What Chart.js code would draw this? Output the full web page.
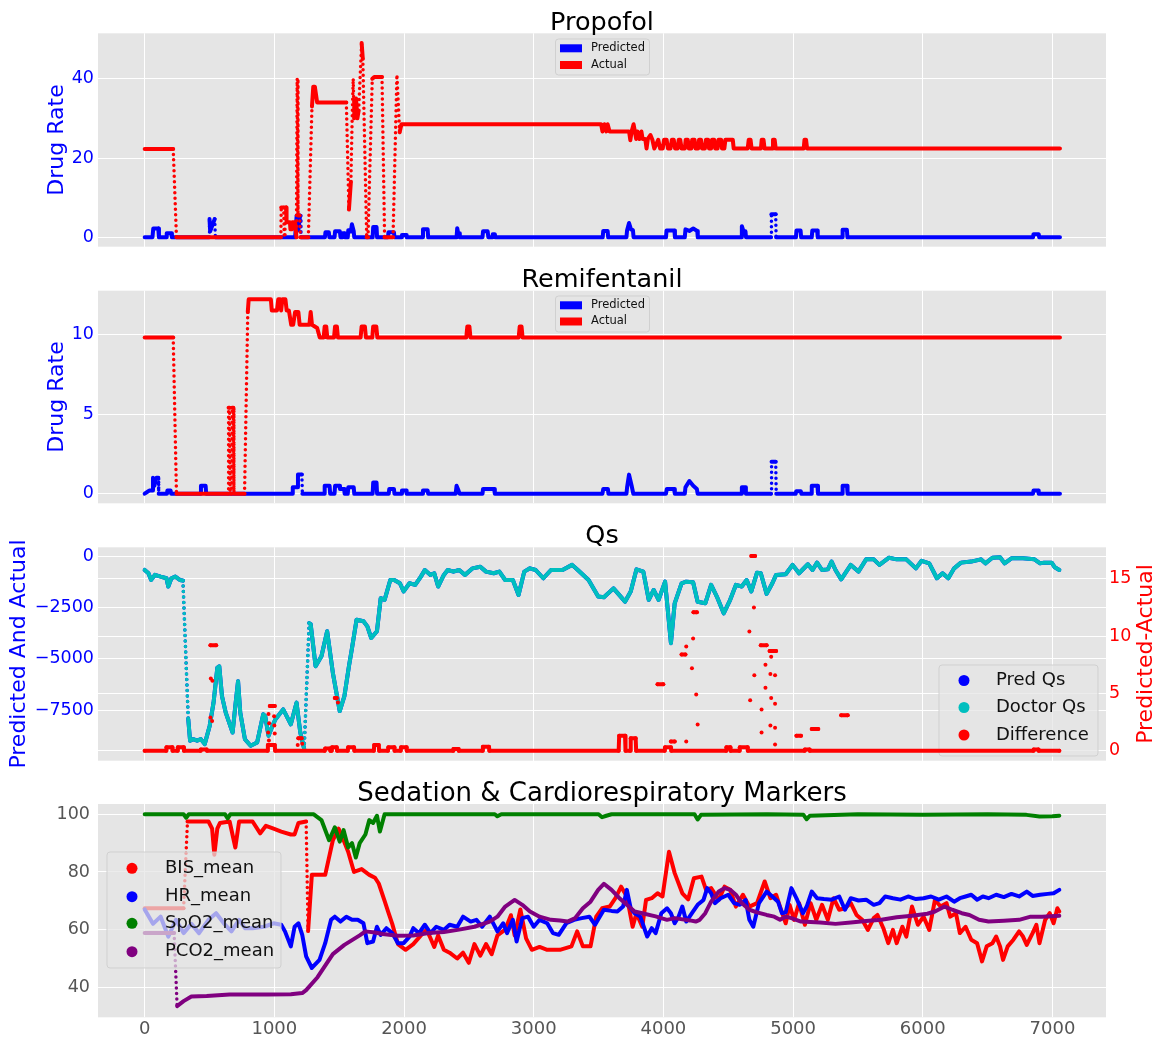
<!DOCTYPE html>
<html>
<head>
<meta charset="utf-8">
<script src="https://cdn.jsdelivr.net/npm/chart.js@4.4.1/dist/chart.umd.min.js"></script>
<style>
body { margin: 0; background: #fff; }
#wrap { position: relative; width: 1160px; height: 1040px; }
#wrap canvas { position: absolute; left: 0; }
</style>
</head>
<body>
<div id="wrap">
  <canvas id="c1" width="1160" height="260" style="top:0px"></canvas>
  <canvas id="c2" width="1160" height="260" style="top:260px"></canvas>
  <canvas id="c3" width="1160" height="260" style="top:520px"></canvas>
  <canvas id="c4" width="1160" height="260" style="top:780px"></canvas>
</div>
<script>
// ---- data (x = sample index, y = value) ----
var xTicks = [0, 1000, 2000, 3000, 4000, 5000, 6000, 7000];
var propTicks = [0, 20, 40];
var remiTicks = [0, 5, 10];
var qsTicks = [-7500, -5000, -2500, 0];
var diffTicks = [0, 5, 10, 15];
var vitalTicks = [40, 60, 80, 100];

var propActual = [[0,22.3],[220,22.3],[245,0],[1050,0],[1053,7.5],[1072,7.5],[1076,0],[1082,7.5],[1090,7.5],[1094,3.8],[1120,3.8],[1124,2],[1135,2],[1138,3.8],[1160,3.8],[1170,0],[1176,40],[1182,5.5],[1195,5.5],[1200,0],[1262,0],[1290,33],[1300,38],[1312,38],[1330,34],[1555,34],[1575,7],[1590,14],[1600,30],[1608,40],[1615,30],[1630,35],[1640,30],[1650,32],[1673,49],[1682,45],[1712,0],[1722,0],[1755,40],[1770,40.4],[1830,40.4],[1850,0],[1915,0],[1945,41],[1966,26.5],[1980,28.5],[3520,28.5],[3530,26.7],[3545,28.5],[3560,26.7],[3570,28.5],[3585,26.7],[3735,26.7],[3745,24.5],[3755,26.7],[3770,28.5],[3780,26.7],[3790,24.8],[3800,26.7],[3815,24.8],[3830,26.7],[3840,24.8],[3860,24.8],[3870,22.4],[3880,24.8],[3900,25.8],[3915,24.6],[3930,22.4],[3960,24.6],[3975,22.4],[3995,22.4],[4005,24.6],[4025,24.6],[4035,22.4],[4055,22.4],[4065,24.6],[4080,24.6],[4090,22.4],[4110,22.4],[4118,24.6],[4130,24.6],[4140,22.4],[4165,22.4],[4172,24.6],[4188,24.6],[4196,22.4],[4215,22.4],[4222,24.6],[4240,24.6],[4248,22.4],[4268,22.4],[4275,24.6],[4290,24.6],[4298,22.4],[4320,22.4],[4328,24.6],[4345,24.6],[4352,22.4],[4368,22.4],[4375,24.6],[4392,24.6],[4400,22.4],[4418,22.4],[4425,24.6],[4445,24.6],[4452,22.4],[4470,22.4],[4478,24.6],[4535,24.6],[4542,22.4],[4650,22.4],[4658,24.6],[4672,24.6],[4680,22.4],[4752,22.4],[4758,24.6],[4772,24.6],[4780,22.4],[4838,22.4],[4845,24.6],[4858,24.6],[4866,22.4],[5082,22.4],[5088,24.6],[5100,24.6],[5108,22.4],[7058,22.4]];
var propPred = [[0,0],[60,0],[66,2.2],[105,2.2],[110,0],[165,0],[170,1],[205,1],[210,0],[498,0],[500,4.6],[505,1.5],[540,4.6],[545,0],[1160,0],[1172,5.5],[1185,1.8],[1198,5.5],[1205,0],[1390,0],[1394,1.3],[1420,1.3],[1424,0],[1464,0],[1468,1.5],[1505,1.5],[1510,0],[1522,0],[1526,1],[1540,1],[1544,0],[1566,0],[1570,1.8],[1590,1.5],[1598,3.3],[1612,1.5],[1616,0],[1758,0],[1762,2.6],[1788,2.6],[1792,0],[1876,0],[1880,1.3],[1922,1.3],[1926,0],[1980,0],[1984,0.6],[2016,0.6],[2020,0],[2142,0],[2146,2],[2182,2],[2186,0],[2405,0],[2410,2.3],[2418,1],[2425,1],[2430,0],[2605,0],[2609,1.5],[2645,1.5],[2650,0],[2680,0],[2684,0.8],[2700,0.8],[2704,0],[3532,0],[3536,1.6],[3570,1.6],[3574,0],[3715,0],[3720,1.8],[3735,3.6],[3750,2],[3765,1.8],[3770,0],[4020,0],[4024,1.7],[4085,1.7],[4089,0],[4165,0],[4170,2],[4200,1.6],[4230,2.2],[4261,1.6],[4265,0],[4600,0],[4605,2.8],[4618,1.5],[4633,1.5],[4637,0],[4830,0],[4833,5.8],[4866,5.8],[4869,0],[5022,0],[5026,1.7],[5058,1.7],[5062,0],[5144,0],[5148,1.7],[5186,1.7],[5190,0],[5378,0],[5382,1.9],[5415,1.9],[5419,0],[6850,0],[6854,0.8],[6894,0.8],[6898,0],[7058,0]];

var remiActual = [[0,9.8],[220,9.8],[245,0],[643,0],[647,5.4],[655,5.4],[659,0],[670,0],[674,5.4],[684,5.4],[688,0],[770,0],[795,11.4],[802,12.2],[973,12.2],[980,11.5],[1020,11.5],[1030,12.2],[1045,12.2],[1052,11.5],[1062,12.2],[1085,12.2],[1095,11.5],[1112,11.5],[1130,10.6],[1145,10.6],[1160,11.4],[1185,11.4],[1195,10.6],[1270,10.6],[1280,11.4],[1290,10.6],[1330,10.4],[1350,9.8],[1380,9.8],[1388,10.5],[1400,10.5],[1408,9.8],[1460,9.8],[1468,10.5],[1482,10.5],[1490,9.8],[1665,9.8],[1673,10.5],[1698,10.5],[1706,9.8],[1755,9.8],[1762,10.5],[1786,10.5],[1794,9.8],[2480,9.8],[2488,10.5],[2504,10.5],[2512,9.8],[2884,9.8],[2892,10.5],[2906,10.5],[2914,9.8],[7058,9.8]];
var remiPred = [[0,0],[35,0.2],[60,0.2],[64,1],[75,0.5],[90,1],[105,1],[108,0],[172,0],[175,0.2],[200,0.2],[204,0],[430,0],[434,0.5],[470,0.5],[474,0],[1138,0],[1142,0.4],[1178,0.4],[1182,1.2],[1212,1.2],[1216,0],[1384,0],[1388,0.5],[1426,0.5],[1430,0],[1464,0],[1468,0.5],[1502,0.5],[1506,0.3],[1538,0.3],[1542,0],[1566,0],[1570,0.4],[1612,0.4],[1616,0],[1758,0],[1762,0.7],[1788,0.7],[1792,0],[1882,0],[1886,0.3],[1922,0.3],[1926,0],[1980,0],[1984,0.2],[2016,0.2],[2020,0],[2142,0],[2146,0.2],[2182,0.2],[2186,0],[2398,0],[2405,0.5],[2420,0.2],[2428,0],[2605,0],[2609,0.3],[2695,0.3],[2700,0],[3530,0],[3536,0.3],[3572,0.3],[3576,0],[3715,0],[3720,0.4],[3735,1.2],[3755,0.5],[3768,0],[4020,0],[4026,0.3],[4082,0.3],[4088,0],[4165,0],[4170,0.4],[4200,0.8],[4230,0.5],[4258,0.3],[4264,0],[4600,0],[4605,0.4],[4630,0.4],[4636,0],[4830,0],[4834,2],[4866,2],[4870,0],[5020,0],[5024,0.15],[5060,0.15],[5064,0],[5140,0],[5144,0.5],[5188,0.5],[5192,0],[5378,0],[5382,0.5],[5416,0.5],[5420,0],[6850,0],[6854,0.2],[6890,0.2],[6894,0],[7058,0]];

var doctorQs = [[0,-650],[29,-810],[50,-1136],[79,-890],[123,-975],[168,-1055],[182,-1460],[206,-1055],[236,-975],[271,-1136],[295,-1170],[336,-7950],[350,-9000],[374,-8925],[404,-9000],[433,-8925],[463,-9170],[501,-8280],[531,-7140],[560,-5440],[575,-5360],[596,-6820],[625,-7630],[678,-8600],[699,-7300],[720,-6090],[737,-7630],[773,-8930],[817,-9250],[867,-9090],[914,-7710],[929,-7790],[955,-8760],[985,-8280],[1009,-7950],[1068,-7470],[1127,-8200],[1171,-7140],[1200,-8600],[1230,-9410],[1268,-3250],[1280,-3300],[1318,-5360],[1363,-4870],[1407,-3650],[1451,-5680],[1504,-7550],[1540,-6820],[1575,-5360],[1599,-4460],[1634,-3080],[1687,-3160],[1717,-3410],[1747,-3980],[1791,-3650],[1820,-2030],[1850,-2110],[1894,-1140],[1924,-1140],[1968,-1300],[1997,-1700],[2042,-1300],[2086,-1380],[2130,-975],[2160,-650],[2204,-890],[2233,-810],[2263,-1460],[2307,-890],[2337,-650],[2381,-730],[2425,-650],[2470,-890],[2529,-570],[2588,-490],[2632,-730],[2691,-810],[2735,-730],[2780,-1140],[2839,-1140],[2883,-1870],[2927,-730],[2971,-570],[3015,-650],[3074,-1055],[3133,-650],[3222,-650],[3296,-400],[3340,-650],[3423,-1140],[3497,-1950],[3541,-1980],[3615,-1550],[3659,-1870],[3704,-2200],[3748,-1700],[3792,-620],[3845,-730],[3887,-2110],[3925,-1630],[3963,-2110],[4013,-1220],[4058,-4230],[4087,-2280],[4140,-1300],[4176,-1220],[4229,-1250],[4264,-2200],[4323,-2280],[4368,-1380],[4412,-1950],[4465,-2770],[4515,-2110],[4559,-1380],[4604,-1460],[4642,-1140],[4678,-1700],[4722,-780],[4751,-810],[4796,-1820],[4840,-1300],[4869,-890],[4943,-860],[4996,-400],[5046,-810],[5114,-370],[5150,-650],[5185,-290],[5223,-650],[5268,-620],[5297,-240],[5327,-650],[5371,-1110],[5445,-400],[5504,-730],[5563,-130],[5622,-130],[5666,-400],[5740,-50],[5799,-130],[5873,-130],[5947,-570],[5991,-200],[6050,-325],[6109,-1055],[6153,-810],[6197,-1055],[6242,-570],[6295,-290],[6374,-240],[6448,-130],[6483,-325],[6537,-50],[6596,-30],[6631,-325],[6684,-80],[6773,-80],[6861,-130],[6905,-325],[6935,-290],[6994,-290],[7018,-520],[7053,-650]];
var predQs = doctorQs; // sits exactly under the doctor curve in the figure

// [x, null] breaks the line so the loose dots stay apart
var qsDiff = [[0,0],[165,0],[168,0.3],[212,0.3],[215,0],[253,0],[256,0.3],[300,0.3],[303,0],[430,0],[433,0.1],[478,0.1],[481,0],[947,0],[950,0.5],[1003,0.5],[1006,0],[1388,0],[1392,0.2],[1428,0.2],[1432,0],[1442,0],[1445,0.3],[1481,0.3],[1484,0],[1566,0],[1569,0.3],[1614,0.3],[1617,0],[1767,0],[1770,0.5],[1805,0.5],[1808,0],[1876,0],[1879,0.3],[1924,0.3],[1927,0],[1974,0],[1977,0.3],[2018,0.3],[2021,0],[2378,0],[2381,0.15],[2419,0.15],[2422,0],[2605,0],[2608,0.35],[2655,0.35],[2658,0],[3655,0],[3659,1.3],[3704,1.3],[3708,0],[3744,0],[3748,1.1],[3786,1.1],[3790,0],[4010,0],[4013,0.3],[4058,0.3],[4061,0],[4483,0],[4486,0.3],[4515,0.3],[4518,0],[4586,0],[4589,0.3],[4648,0.3],[4651,0],[5088,0],[5091,0.1],[5126,0.1],[5129,0],[6852,0],[6855,0.1],[6891,0.1],[6894,0],[7053,0],
  [7053,null],[507,9.2],[551,9.2],[551,null],[510,6.3],[510,null],[522,6.1],[522,null],[507,2.9],[507,null],[520,2.6],[520,null],
  [965,3.9],[1003,3.9],[1003,null],[955,3.2],[955,null],[960,2.4],[960,null],[998,3.0],[998,null],[1000,2.2],[1000,null],[952,1.6],[952,null],[1003,1.5],[1003,null],[958,0.9],[958,null],
  [1185,1.1],[1210,1.1],[1210,null],[1180,0.5],[1180,null],[1215,0.6],[1215,null],[1466,4.6],[1481,4.6],[1481,null],[1490,4.2],[1490,null],
  [3955,5.8],[3999,5.8],[3999,null],[4058,0.8],[4087,0.8],[4087,null],[4140,8.4],[4170,8.4],[4170,null],[4176,9.1],[4176,null],[4220,7.2],[4220,null],[4229,9.8],[4229,null],[4232,12.1],[4258,12.1],[4258,null],[4253,4.9],[4253,null],[4264,2.3],[4264,null],[4176,0.8],[4176,null],
  [4663,10.4],[4663,null],[4669,4.4],[4669,null],[4678,17],[4707,17],[4707,null],[4698,12.5],[4698,null],[4701,6.6],[4701,null],
  [4751,9.2],[4796,9.2],[4796,null],[4787,7.5],[4787,null],[4787,5.5],[4787,null],[4757,3.6],[4757,null],[4757,1.6],[4757,null],
  [4819,8.7],[4869,8.7],[4869,null],[4831,8.2],[4831,null],[4825,6.7],[4825,null],[4861,6.6],[4861,null],[4831,4.6],[4831,null],[4861,4.1],[4861,null],[4825,2.2],[4825,null],[4861,2.0],[4861,null],[4861,0.55],[4861,null],
  [5026,1.3],[5061,1.3],[5061,null],[5144,1.9],[5194,1.9],[5194,null],[5371,3.1],[5421,3.1]];

var bisMean = [[0,67.4],[300,67.4],[330,97.5],[492,97.5],[520,95],[537,86],[560,95],[581,97],[655,97.5],[699,88.5],[728,97.5],[832,97.5],[891,93.4],[935,96],[994,95],[1053,94],[1127,93],[1156,93],[1186,97],[1245,97.5],[1260,59.5],[1289,79],[1333,79],[1392,79],[1451,91],[1496,95],[1525,92],[1569,87],[1614,80],[1673,81],[1732,79],[1776,78],[1805,76],[1850,70],[1879,66],[1909,62],[1953,55],[2012,53],[2071,55],[2130,58],[2174,60],[2204,57],[2233,54],[2263,58],[2307,53],[2351,52],[2410,50],[2455,52],[2499,48.5],[2543,55],[2588,51],[2632,55],[2676,51.5],[2720,58],[2780,60],[2824,65],[2853,58],[2897,67],[2941,57],[2986,53],[3045,54],[3104,53],[3163,53],[3202,53],[3291,54.2],[3335,59.4],[3379,54.2],[3438,54.2],[3482,64.5],[3527,67.4],[3586,68],[3630,70.9],[3674,74.9],[3718,71.5],[3763,61],[3792,65.7],[3837,61],[3866,70.3],[3910,70.9],[3955,72.6],[3993,71.5],[4043,87],[4087,79.6],[4146,72.6],[4191,70.5],[4235,77.8],[4294,78.4],[4329,73.8],[4368,74.4],[4427,70.3],[4471,74.9],[4515,73.8],[4559,68],[4613,72.1],[4663,68],[4722,69.2],[4781,76.7],[4825,70.9],[4869,72.1],[4899,68],[4943,62.2],[4973,68.6],[5008,63.4],[5046,69.2],[5091,61.7],[5135,69.2],[5179,63.4],[5223,68.6],[5268,63.4],[5312,70.9],[5356,66.9],[5400,67.4],[5445,69.2],[5489,65.1],[5533,63.4],[5577,59.9],[5622,64],[5651,65.1],[5696,60.5],[5734,55.3],[5770,59.9],[5799,55.3],[5843,61],[5873,57.6],[5917,68],[5962,61.7],[6006,64.5],[6050,59.9],[6094,70.3],[6138,68],[6183,69.2],[6212,64.5],[6256,65.7],[6286,58.8],[6330,61],[6374,56.5],[6419,55.3],[6457,49],[6493,54.2],[6537,55.3],[6566,57.6],[6596,54.2],[6619,49.5],[6655,54.2],[6699,56.5],[6743,59.4],[6773,57.6],[6802,54.7],[6847,58.8],[6876,61.7],[6900,55.3],[6944,63.4],[6979,65.7],[7009,62.2],[7038,67.4],[7053,66.3]];
var hrMean = [[0,67],[64,62],[123,64.5],[182,57.6],[241,63.4],[300,58.8],[360,62],[419,58.8],[492,63.4],[551,65.7],[610,62.2],[669,59.4],[728,63.4],[773,60.5],[832,60.5],[920,61],[994,62.2],[1053,61.7],[1082,59.4],[1127,54.2],[1156,61],[1186,62.2],[1215,58.2],[1245,50.7],[1289,46.7],[1348,49.5],[1392,55.3],[1437,63.4],[1466,64.5],[1510,62.8],[1555,64.5],[1599,63.4],[1643,63.4],[1687,62.2],[1717,55.3],[1761,55.9],[1791,61],[1820,58.2],[1864,60.5],[1909,58.8],[1953,55.3],[1997,55.3],[2042,57.6],[2071,60.5],[2115,58.8],[2160,61.7],[2204,58.8],[2248,61],[2307,59.9],[2351,61.7],[2410,61],[2455,64.5],[2514,62.8],[2558,63.4],[2602,61],[2661,64.5],[2720,59.4],[2765,62.2],[2794,58.8],[2839,63.4],[2868,55.9],[2912,64],[2956,64.5],[3000,61],[3045,63.4],[3104,62.2],[3148,58.8],[3193,58.2],[3251,62.2],[3311,63.4],[3370,64],[3429,64.5],[3473,61.7],[3541,66.9],[3600,66.5],[3645,66.3],[3689,68],[3718,73.8],[3748,67.4],[3778,65.7],[3822,64.5],[3875,57.6],[3910,60.5],[3940,58.8],[3984,65.7],[4028,67.4],[4058,65.7],[4087,62.2],[4117,64.5],[4146,68],[4176,62.8],[4220,65.7],[4264,68.6],[4309,70.3],[4338,74.4],[4368,72.6],[4397,69.2],[4441,70.9],[4500,72.1],[4545,69.2],[4589,68.6],[4634,70.3],[4663,63.4],[4693,61],[4737,69.2],[4796,73.2],[4840,71.5],[4884,69.7],[4914,65.7],[4943,66],[4987,74.4],[5032,70.3],[5076,65.7],[5105,68],[5144,73.2],[5185,70.9],[5238,70.6],[5297,70.4],[5356,71.5],[5400,66.9],[5445,70.9],[5504,70.1],[5563,70.4],[5622,68.6],[5666,69.2],[5710,71.5],[5770,70.9],[5828,70.4],[5887,71.5],[5947,70.6],[6006,70.9],[6064,71.5],[6124,70.4],[6183,71.5],[6242,69.7],[6286,70.9],[6330,71.5],[6374,72.1],[6419,70.4],[6463,71.5],[6507,70.9],[6566,72.1],[6625,71.3],[6684,72.4],[6743,71.5],[6802,73.2],[6847,71.7],[6905,72.1],[6964,72.4],[7009,72.6],[7053,73.8]];
var spo2Mean = [[0,100],[300,100],[320,98.8],[340,100],[620,100],[640,98.6],[660,100],[1245,100],[1304,100],[1363,98],[1422,91],[1466,95.5],[1504,90.5],[1534,94.5],[1569,88.5],[1599,90],[1628,85],[1658,90],[1702,93],[1732,98],[1761,97],[1791,99.5],[1814,94],[1850,100],[2700,100],[2720,99.3],[2750,100],[3500,100],[3527,99],[3560,99.5],[3600,100],[4240,100],[4264,98.2],[4290,99.8],[4800,100],[5080,99.8],[5105,98.3],[5130,99.5],[5500,100],[6000,99.8],[6500,100],[6800,99.8],[6900,99.2],[7000,99.3],[7053,99.5]];
var pco2Mean = [[0,58.8],[227,58.8],[250,33.5],[300,35.2],[360,36.8],[478,37],[655,37.5],[950,37.5],[1127,37.6],[1215,38],[1245,39],[1333,43.5],[1451,51.5],[1540,54.7],[1658,58],[1702,59.4],[1776,59],[1835,58.5],[1953,57.9],[2071,58],[2189,58.8],[2307,59.2],[2425,60],[2543,61],[2661,62.8],[2720,64.5],[2780,68],[2853,70.3],[2912,68.6],[2971,66.3],[3045,64.5],[3133,63.4],[3202,63.2],[3261,62.8],[3320,64],[3379,67.4],[3438,69.7],[3497,73.8],[3541,75.9],[3600,73.8],[3659,71],[3718,68.6],[3778,66.3],[3837,65.7],[3940,64.6],[4028,63.4],[4087,64],[4205,63.2],[4249,62.8],[4280,63.4],[4323,65.7],[4368,69.7],[4427,73.2],[4471,74.4],[4515,73.8],[4559,72.1],[4604,69.2],[4663,66.9],[4722,66],[4796,65.1],[4855,64.5],[4899,63.4],[4943,64.5],[4987,64],[5061,62.8],[5209,62.5],[5327,62],[5445,62.5],[5563,63],[5681,63.4],[5799,64.3],[5917,64.8],[6035,65.5],[6094,66.3],[6168,68],[6227,66.9],[6301,65.7],[6360,65.1],[6434,63.4],[6507,62.8],[6625,63.1],[6743,63.4],[6832,64.5],[6920,64.5],[7053,64.8]];

// ---- styling ----
var F = 'DejaVu Sans';
var BG = '#e5e5e5';
var GRID = '#ffffff';
var X_MIN = -360, X_MAX = 7413;
Chart.defaults.font.family = F;

function minusFmt(v) { return v < 0 ? '\u2212' + Math.abs(v) : String(v); }

// steep jumps were drawn as separate dots in the original
function dotted(c) {
  var dy = Math.abs(c.p1.y - c.p0.y), dx = Math.abs(c.p1.x - c.p0.x);
  return dy > 15 && dy > 20 * dx;
}

function series(label, pts, color, order, extra) {
  var ds = {
    label: label,
    data: pts.map(function (p) { return { x: p[0], y: p[1] }; }),
    borderColor: color,
    backgroundColor: color,
    borderWidth: 4,
    pointRadius: 0,
    borderCapStyle: 'round',
    borderJoinStyle: 'round',
    order: order,
    segment: {
      borderDash: function (c) { return dotted(c) ? [0, 5.5] : undefined; },
      borderWidth: function (c) { return dotted(c) ? 3.5 : undefined; }
    }
  };
  return Object.assign(ds, extra || {});
}

function xAxis(h, labels) {
  return {
    type: 'linear', min: X_MIN, max: X_MAX,
    afterBuildTicks: function (s) { s.ticks = xTicks.map(function (v) { return { value: v }; }); },
    afterFit: function (s) { s.height = h; s.paddingLeft = 0; s.paddingRight = 0; },
    grid: { color: GRID, drawTicks: false },
    border: { display: false },
    ticks: { display: labels, color: '#555555', font: { size: 18 }, padding: 1, maxRotation: 0,
      callback: function (v) { return String(v); } }
  };
}

function yAxis(o) {
  var ax = {
    type: 'linear', position: o.pos || 'left', min: o.min, max: o.max,
    afterBuildTicks: function (s) { s.ticks = o.ticks.map(function (v) { return { value: v }; }); },
    afterFit: function (s) { s.width = o.width; s.paddingTop = 0; s.paddingBottom = 0; },
    grid: { color: GRID, drawTicks: false },
    border: { display: false },
    ticks: { color: o.color, font: { size: 17.5 }, padding: o.pad, callback: minusFmt }
  };
  if (o.title) {
    ax.title = { display: true, text: o.title, color: o.color, font: { size: 22 },
      padding: { top: o.titlePad, bottom: 0 } };
  }
  return ax;
}

function drawLegend(chart, L) {
  var c = chart.ctx;
  c.save();
  c.fillStyle = 'rgba(229,229,229,0.72)';
  c.strokeStyle = 'rgba(205,205,205,0.9)';
  c.lineWidth = 1;
  c.beginPath();
  if (c.roundRect) c.roundRect(L.x, L.y, L.w, L.h, 3); else c.rect(L.x, L.y, L.w, L.h);
  c.fill();
  c.stroke();
  c.font = L.size + 'px ' + F;
  c.textBaseline = 'middle';
  c.textAlign = 'left';
  L.items.forEach(function (di, i) {
    var ds = chart.data.datasets[di], y = L.rows[i];
    c.fillStyle = ds.borderColor;
    if (L.patch) {
      c.fillRect(L.mx, y - 4, 22, 8);
    } else {
      c.beginPath(); c.arc(L.mx, y, 5.5, 0, Math.PI * 2); c.fill();
    }
    c.fillStyle = '#111111';
    c.fillText(ds.label, L.tx, y);
  });
  c.restore();
}

var panelDeco = {
  id: 'panelDeco',
  beforeDraw: function (chart) {
    var a = chart.chartArea, c = chart.ctx;
    c.save();
    c.fillStyle = BG;
    c.fillRect(a.left, a.top, a.right - a.left, a.bottom - a.top);
    c.restore();
  },
  beforeDatasetDraw: function (chart, args, o) {
    if (o.legend && o.legend.under === args.index) drawLegend(chart, o.legend);
  },
  afterDatasetsDraw: function (chart, args, o) {
    if (o.legend && o.legend.under === undefined) drawLegend(chart, o.legend);
  },
  afterDraw: function (chart, args, o) {
    var a = chart.chartArea, c = chart.ctx;
    c.save();
    c.fillStyle = '#000000';
    c.font = o.titleSize + 'px ' + F;
    c.textAlign = 'center';
    c.textBaseline = 'alphabetic';
    c.fillText(o.title, (a.left + a.right) / 2, o.titleY);
    if (o.rightTitle) {
      c.translate(o.rightX, (a.top + a.bottom) / 2);
      c.rotate(-Math.PI / 2);
      c.fillStyle = o.rightColor;
      c.font = '22px ' + F;
      c.textBaseline = 'middle';
      c.fillText(o.rightTitle, 0, 0);
    }
    c.restore();
  }
};

function panel(id, cfg) {
  return new Chart(document.getElementById(id), {
    type: 'line',
    data: { datasets: cfg.datasets },
    options: {
      responsive: false,
      animation: false,
      events: [],
      layout: { padding: { top: cfg.top, right: cfg.right, bottom: 0, left: 0 } },
      scales: cfg.scales,
      plugins: { legend: { display: false }, tooltip: { enabled: false }, panelDeco: cfg.deco }
    },
    plugins: [panelDeco]
  });
}

// ---- Propofol ----
panel('c1', {
  top: 33.3, right: 54,
  datasets: [
    series('Predicted', propPred, '#0000ff', 1),
    series('Actual', propActual, '#ff0000', 0)
  ],
  scales: {
    x: xAxis(13.3, false),
    y: yAxis({ min: -2.37, max: 51.45, ticks: propTicks, color: '#0000ff', width: 98, pad: 4,
      title: 'Drug Rate', titlePad: 44.3 })
  },
  deco: { title: 'Propofol', titleY: 30, titleSize: 25.5,
    legend: { x: 555.5, y: 39, w: 94, h: 36, patch: true, mx: 560, tx: 591, size: 11.5, rows: [48.3, 65], items: [0, 1] } }
});

// ---- Remifentanil ----
panel('c2', {
  top: 30.7, right: 54,
  datasets: [
    series('Predicted', remiPred, '#0000ff', 1),
    series('Actual', remiActual, '#ff0000', 0)
  ],
  scales: {
    x: xAxis(16.7, false),
    y: yAxis({ min: -0.6, max: 12.74, ticks: remiTicks, color: '#0000ff', width: 98, pad: 4,
      title: 'Drug Rate', titlePad: 44.3 })
  },
  deco: { title: 'Remifentanil', titleY: 26.7, titleSize: 25.5,
    legend: { x: 555.5, y: 36, w: 94, h: 36, patch: true, mx: 560, tx: 591, size: 11.5, rows: [45.3, 61.5], items: [0, 1] } }
});

// ---- Qs ----
panel('c3', {
  top: 27.3, right: 0,
  datasets: [
    series('Pred Qs', predQs, '#0000ff', 2, { yAxisID: 'y' }),
    series('Doctor Qs', doctorQs, '#00bfbf', 1, { yAxisID: 'y' }),
    series('Difference', qsDiff, '#ff0000', 0, { yAxisID: 'y2', pointRadius: 2, pointBorderWidth: 0,
      pointBackgroundColor: '#ff0000', spanGaps: false })
  ],
  scales: {
    x: xAxis(19.3, false),
    y: yAxis({ min: -9980, max: 460, ticks: qsTicks, color: '#0000ff', width: 98, pad: 4,
      title: 'Predicted And Actual', titlePad: 6 }),
    y2: yAxis({ pos: 'right', min: -0.87, max: 17.76, ticks: diffTicks, color: '#ff0000', width: 54, pad: 3 })
  },
  deco: { title: 'Qs', titleY: 23.3, titleSize: 25.5, rightTitle: 'Predicted-Actual', rightX: 1146, rightColor: '#ff0000',
    legend: { under: 2, x: 939, y: 145, w: 159, h: 91, patch: false, mx: 964, tx: 996, size: 18, rows: [160.5, 187.5, 215], items: [0, 1, 2] } }
});

// ---- Sedation & Cardiorespiratory Markers ----
panel('c4', {
  top: 24, right: 54,
  datasets: [
    series('BIS_mean', bisMean, '#ff0000', 3),
    series('HR_mean', hrMean, '#0000ff', 2),
    series('SpO2_mean', spo2Mean, '#008000', 1),
    series('PCO2_mean', pco2Mean, '#800080', 0)
  ],
  scales: {
    x: xAxis(22.7, true),
    y: yAxis({ min: 29.6, max: 103.57, ticks: vitalTicks, color: '#555555', width: 98, pad: 8 })
  },
  deco: { title: 'Sedation & Cardiorespiratory Markers', titleY: 20.7, titleSize: 26,
    legend: { x: 107, y: 72, w: 174, h: 116, patch: false, mx: 132, tx: 165, size: 18, rows: [88.3, 116.7, 143.3, 171.7], items: [0, 1, 2, 3] } }
});
</script>
</body>
</html>
